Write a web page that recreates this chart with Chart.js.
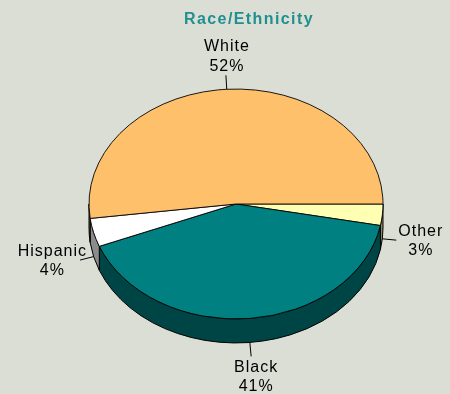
<!DOCTYPE html>
<html>
<head>
<meta charset="utf-8">
<script src="https://cdn.jsdelivr.net/npm/chart.js@4.4.1/dist/chart.umd.min.js"></script>
<style>
  html, body { margin: 0; padding: 0; background: #DBDED5; }
  #race-chart { display: block; }
</style>
</head>
<body>
<canvas id="race-chart" width="450" height="394"></canvas>
<script>
// slices go clockwise from 3 o'clock
const categories = ["Other", "Black", "Hispanic", "White"];
const shares = [3, 41, 4, 52];
const topColors = ["#FFFFB4", "#008080", "#FFFFFF", "#FFC06B"];
const wallColors = ["#8A8A5C", "#004545", "#8C8C8C", "#806035"];

const TILT = 0.782;  // how much the pie top is squashed
const DEPTH = 24;    // wall height

Chart.defaults.font.family = '"Liberation Sans", Arial, sans-serif';

var pie3d = {
  id: "pie3d",
  beforeDatasetsDraw: function (chart) {
    var ctx = chart.ctx;
    var arcs = chart.getDatasetMeta(0).data;
    var cx = arcs[0].x, cy = arcs[0].y;

    // walls: only the front half of the rim can be seen
    ctx.save();
    ctx.lineWidth = 1;
    ctx.strokeStyle = "#000";
    arcs.forEach(function (arc, i) {
      var a0 = Math.max(arc.startAngle, 0);
      var a1 = Math.min(arc.endAngle, Math.PI);
      if (a1 <= a0) return;
      var r = arc.outerRadius;
      ctx.beginPath();
      ctx.ellipse(cx, cy, r, r * TILT, 0, a0, a1);
      ctx.ellipse(cx, cy + DEPTH, r, r * TILT, 0, a1, a0, true);
      ctx.closePath();
      ctx.fillStyle = wallColors[i];
      ctx.fill();
      ctx.stroke();
    });
    ctx.restore();

    // squash the top face
    ctx.save();
    ctx.translate(cx, cy);
    ctx.scale(1, TILT);
    ctx.translate(-cx, -cy);
  },
  afterDatasetsDraw: function (chart) {
    var ctx = chart.ctx;
    ctx.restore();

    var arcs = chart.getDatasetMeta(0).data;
    var cx = arcs[0].x, cy = arcs[0].y;
    var lh = 19.5;

    ctx.save();
    ctx.font = "16px " + Chart.defaults.font.family;
    ctx.letterSpacing = "1px";
    ctx.textBaseline = "middle";
    ctx.fillStyle = "#000";
    ctx.strokeStyle = "#000";
    ctx.lineWidth = 1;
    arcs.forEach(function (arc, i) {
      var mid = (arc.startAngle + arc.endAngle) / 2;
      var c = Math.cos(mid), s = Math.sin(mid);
      var r = arc.outerRadius;
      var ax = cx + r * c;
      var ay = cy + r * TILT * s + (s > 0 ? DEPTH : 0);
      var bx = ax + c * 14, by = ay + s * 14;

      ctx.beginPath();
      ctx.moveTo(ax, ay);
      ctx.lineTo(bx, by);
      ctx.stroke();

      var lines = [categories[i], shares[i] + "%"];
      var w = Math.max(ctx.measureText(lines[0]).width, ctx.measureText(lines[1]).width);
      var tx, ty;
      if (Math.abs(c) > Math.abs(s)) {
        tx = c > 0 ? bx + 2 + w / 2 : bx + 7 - w / 2;
        ty = by + 1 - lh / 2;
      } else if (s < 0) {
        tx = bx + 1;
        ty = by - 9 - lh;
      } else {
        tx = bx + 5;
        ty = by + 11;
      }
      ctx.textAlign = "center";
      ctx.fillText(lines[0], tx, ty);
      ctx.fillText(lines[1], tx, ty + lh);
    });
    ctx.restore();
  },
  afterDraw: function (chart) {
    var ctx = chart.ctx;
    ctx.save();
    ctx.font = "bold 16px " + Chart.defaults.font.family;
    ctx.letterSpacing = "1.4px";
    ctx.fillStyle = "#1F8F8F";
    ctx.textAlign = "center";
    ctx.textBaseline = "middle";
    ctx.fillText("Race/Ethnicity", 249, 20);
    ctx.restore();
  }
};

new Chart("race-chart", {
  type: "pie",
  data: {
    labels: categories,
    datasets: [
      {
        data: shares,
        backgroundColor: topColors,
        borderColor: "#000",
        borderWidth: 1,
        radius: 147,
        clip: false,
      },
    ],
  },
  options: {
    responsive: false,
    animation: false,
    events: [],
    rotation: 90,
    layout: {
      padding: { top: 35, bottom: 21, left: 22, right: 0 },
    },
    plugins: {
      legend: { display: false },
      tooltip: { enabled: false },
      title: { display: false },
    },
  },
  plugins: [pie3d],
});
</script>
</body>
</html>
